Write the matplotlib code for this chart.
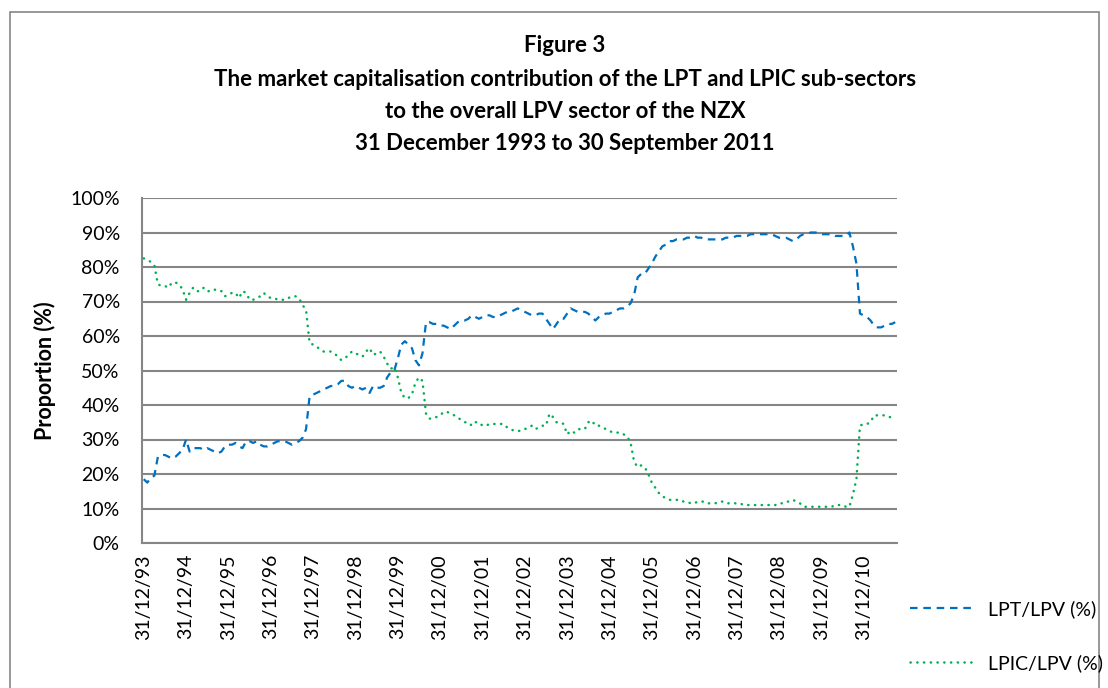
import numpy as np
import matplotlib
matplotlib.use("Agg")
import matplotlib.pyplot as plt
from matplotlib.patches import Rectangle

plt.rcParams['font.family'] = ['Lato', 'DejaVu Sans']

# monthly values, 31/12/93 .. 30/09/11
lpt_lpv = [
    18.5, 17.5, 19, 19.5, 25, 25.5, 25.5, 25, 24.5, 25, 26, 27,
    30, 26.5, 27.5, 27.5, 27.5, 27, 27.5, 27, 26.5, 26, 26.5, 28,
    28.5, 28.5, 29, 28, 27.5, 29.5, 29.5, 29, 29.5, 28.5, 28, 28,
    28.5, 29, 29.5, 29.5, 29.5, 29, 28.5, 29, 29.5, 30.5, 33, 42.5,
    43, 43.5, 44, 44.5, 45, 45.5, 45.5, 46, 47, 47, 45.5, 45,
    45.5, 45, 44.5, 45, 43.5, 45.5, 45, 45, 45.5, 48, 49.5, 50,
    53.5, 57.5, 58.5, 57.5, 56.5, 53, 51.5, 55, 64, 64, 63.5, 63.5,
    63, 63, 62.5, 62, 63, 64, 64.5, 64.5, 65, 66, 65.5, 65,
    65.5, 66, 66, 65.5, 65.5, 66, 66.5, 67, 67, 67.5, 68, 67.5,
    67, 66.5, 66, 66, 66.5, 66.5, 65, 63.5, 62, 63.5, 65, 65,
    66.5, 68, 67.5, 67, 67, 67, 66.5, 65.5, 64.5, 65.5, 66, 66.5,
    66.5, 67, 67.5, 68, 68, 68.5, 69.5, 72, 77, 78, 78, 79.5,
    81, 83, 84.5, 86, 86.5, 87.5, 87.5, 88, 88, 88, 88.5, 88.5,
    89, 88.5, 88.5, 88, 88, 88, 88, 88, 88, 88.5, 88.5, 88.5,
    89, 89, 89, 89, 89.5, 89.5, 89.5, 89.5, 89.5, 89.5, 89.5, 89,
    88.5, 88.5, 88.5, 88, 87.5, 88, 89, 89.5, 89.5, 90, 90, 90,
    89.5, 89.5, 89.5, 89.5, 89, 89, 89, 89, 90, 86, 81, 66.5,
    66, 65.5, 64.5, 63, 62.5, 62.5, 63, 63.5, 63.5, 64,
]
lpic_lpv = [
    82.5, 82, 81.5, 80.5, 75, 74.5, 74.5, 74, 75.5, 75.5, 75, 73.5,
    70.5, 72.5, 74, 73, 73, 74, 73, 73, 73.5, 73, 73, 71.5,
    72, 72.5, 72.5, 71, 73, 72.5, 70.5, 70.5, 71, 71.5, 72.5, 71.5,
    71, 71, 70.5, 70.5, 70.5, 71, 71.5, 71.5, 71, 69, 67.5, 58,
    57.5, 57, 56, 55.5, 55.5, 55.5, 55, 54, 53, 53.5, 54.5, 55.5,
    55, 54.5, 54, 55.5, 56.5, 54.5, 55, 55.5, 54, 52, 50.5, 51,
    48, 43.5, 42, 42, 43, 46.5, 48, 47, 37.5, 36, 36.5, 36.5,
    37, 38, 38, 37.5, 37, 36.5, 35.5, 35, 35, 34, 35, 35,
    34, 34, 34.5, 34.5, 34.5, 34.5, 34.5, 33.5, 33, 32.5, 32.5, 32.5,
    33, 33.5, 34, 33, 33.5, 34, 34, 37.5, 36.5, 35, 35, 34.5,
    31.5, 32.5, 32, 33, 33, 33, 35, 35.5, 34, 34, 33.5, 33,
    32.5, 32, 32, 32, 31.5, 31, 29, 23.5, 22, 22.5, 22, 20,
    17.5, 16, 14.5, 13.5, 13, 12.5, 12.5, 12.5, 12.5, 12, 12, 11.5,
    11.5, 12, 12, 12, 11.5, 11.5, 11.5, 12, 12, 11.5, 11.5, 11.5,
    11.5, 11.5, 11, 11, 11, 11, 11, 11, 11, 11, 11, 11,
    11.5, 11.5, 12, 12, 12.5, 12, 11.5, 10.5, 10.5, 10.5, 10.5, 10.5,
    10.5, 10.5, 10.5, 10.5, 11, 11, 11, 10.5, 10.5, 14, 18.5, 34,
    34.5, 34.5, 35, 37, 37, 37, 37, 36.5, 36.5, 36,
]
tick_labels = ['31/12/93', '31/12/94', '31/12/95', '31/12/96', '31/12/97',
               '31/12/98', '31/12/99', '31/12/00', '31/12/01', '31/12/02',
               '31/12/03', '31/12/04', '31/12/05', '31/12/06', '31/12/07',
               '31/12/08', '31/12/09', '31/12/10']
title_lines = ['Figure 3',
               'The market capitalisation contribution of the LPT and LPIC sub-sectors',
               'to the overall LPV sector of the NZX',
               '31 December 1993 to 30 September 2011']

W, H = 1108, 688
fig = plt.figure(figsize=(W / 100, H / 100), dpi=100)
ax = fig.add_axes([142 / W, 1 - 543 / H, (897 - 142) / W, (543 - 198) / H])

x = np.arange(len(lpt_lpv))
grey = '#868686'
ax.plot(x, lpt_lpv, color='#0070C0', lw=1.6, dashes=(3.4, 2.6),
        label='LPT/LPV (%)', zorder=3)
ax.plot(x, lpic_lpv, color='#00B050', lw=1.8, dashes=(0.1, 2.6),
        dash_capstyle='round', label='LPIC/LPV (%)', zorder=3)

ax.set_xlim(-0.5, len(x) - 0.5)
ax.set_ylim(0, 100)
ax.set_yticks(np.arange(0, 101, 10))
ax.set_yticklabels([f'{v}%' for v in range(0, 101, 10)], fontsize=14)
ax.set_xticks(np.arange(0, len(x), 12)[:len(tick_labels)])
ax.set_xticklabels(tick_labels, rotation=90, fontsize=14)
ax.tick_params(axis='both', length=0)
ax.tick_params(axis='y', pad=16)
ax.tick_params(axis='x', pad=8)
ax.grid(axis='y', color=grey, lw=1.5)
ax.set_axisbelow(True)
for s in ['top', 'right']:
    ax.spines[s].set_visible(False)
for s in ['left', 'bottom']:
    ax.spines[s].set_color(grey)
    ax.spines[s].set_linewidth(1.5)
ax.set_ylabel('Proportion (%)', fontsize=15.5, fontweight='bold', labelpad=10)

for ty, line in zip([45, 80, 112, 143], title_lines):
    fig.text(565 / W, 1 - ty / H, line, ha='center', va='center',
             fontsize=16, fontweight='bold')

fig.legend(loc='center left', bbox_to_anchor=(892 / W, 1 - 636 / H),
           frameon=False, fontsize=14, handlelength=3.3,
           labelspacing=1.85, handletextpad=0.75)

fig.patches.append(Rectangle((10 / W, -0.05), (1099 - 10) / W, 1.05 - 12 / H,
                             transform=fig.transFigure, fill=False,
                             edgecolor=grey, lw=1.2))

fig.savefig('out.png', dpi=100)
